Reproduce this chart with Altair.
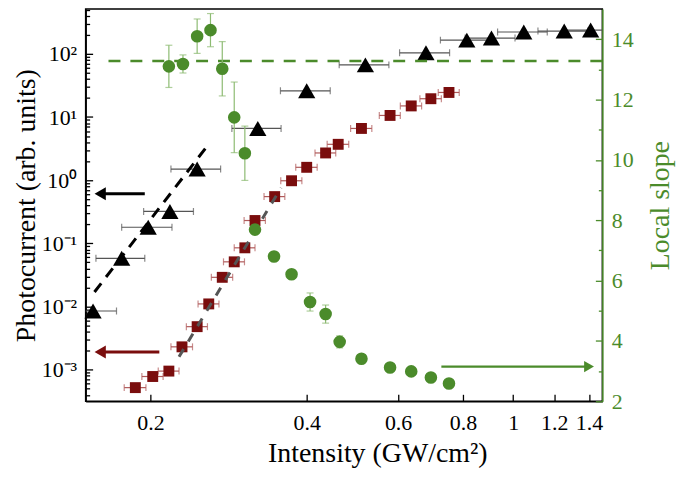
import altair as alt
import pandas as pd

# ---------------- data ----------------
# black triangles (left axis, photocurrent)
tri_x = [0.155, 0.176, 0.198, 0.218, 0.246, 0.322, 0.400, 0.519, 0.679, 0.814, 0.908, 1.048, 1.254, 1.41]
tri_y = [0.0085, 0.058, 0.18, 0.32, 1.5, 6.6, 26, 67, 104, 165, 178, 222, 230, 238]
tri_xerr = [0.017, 0.019, 0.022, 0.024, 0.027, 0.035, 0.044, 0.057, 0.075, 0.090, 0.100, 0.115, 0.138, 0.155]

# dark red squares (left axis, photocurrent)
sq_x = [0.187, 0.202, 0.217, 0.230, 0.246, 0.259, 0.275, 0.290, 0.304, 0.318,
        0.347, 0.374, 0.400, 0.435, 0.460, 0.510, 0.579, 0.636, 0.694, 0.752]
sq_y = [5.2e-4, 7.8e-4, 9.5e-4, 2.3e-3, 4.8e-3, 0.011, 0.029, 0.051, 0.085, 0.23,
        0.55, 0.98, 1.6, 2.7, 3.7, 6.6, 10.6, 15, 19.5, 24.5]
sq_xerr = [0.009, 0.0095, 0.010, 0.011, 0.0115, 0.012, 0.013, 0.0135, 0.014, 0.015,
           0.016, 0.0175, 0.019, 0.020, 0.022, 0.024, 0.027, 0.030, 0.033, 0.035]

# green circles (right axis, local slope)
circ_x = [0.217, 0.231, 0.246, 0.261, 0.275, 0.290, 0.304, 0.318, 0.346, 0.374,
          0.406, 0.435, 0.463, 0.510, 0.579, 0.636, 0.694, 0.752]
circ_s = [13.1, 13.18, 14.1, 14.3, 13.02, 11.41, 10.22, 7.69, 6.80, 6.21,
          5.29, 4.89, 3.97, 3.41, 3.12, 2.99, 2.79, 2.59]
circ_err = [0.7, 0.3, 0.57, 0.55, 0.9, 1.17, 0.9, 0.15, 0.15, 0.15,
            0.3, 0.3, 0.2, 0.1, 0.0, 0.0, 0.0, 0.0]

# dashed guide lines
black_fit_x = [0.156, 0.256]
black_fit_y = [0.017, 3.3]
gray_fit_x = [0.227, 0.357]
gray_fit_y = [1.6e-3, 0.76]
slope_ref_x = [0.166, 1.485]
slope_ref_s = [13.28, 13.28]

# arrows: y value, shaft start, head centre
arrow_left_y = [0.61, 1.9e-3]
arrow_left_from = [0.195, 0.208]
arrow_left_head = [0.160, 0.160]
arrow_left_col = ["black", "#7a0d0d"]
arrow_right_s = [3.15]
arrow_right_from = [0.727]
arrow_right_head = [1.40]

# axis ticks
x_ticks = [0.2, 0.4, 0.6, 0.8, 1, 1.2, 1.4]
left_exps = [-3, -2, -1, 0, 1, 2]
sup = {-3: "⁻³", -2: "⁻²", -1: "⁻¹", 0: "⁰", 1: "¹", 2: "²"}
right_ticks = list(range(2, 15))

# ---------------- styling ----------------
FONT = "Liberation Serif"
GREEN = "#4b8b2b"
GREEN_BAR = "#8dbb72"
RED = "#7a0d0d"
RED_BAR = "#b05a5a"
GRAY_BAR = "#555555"

YLO, YHI = 10 ** -3.5, 10 ** 2.71
left_vals = [m * 10.0 ** e for e in range(-4, 3) for m in range(1, 10)
             if YLO <= m * 10.0 ** e <= YHI]
major_test = "abs(log(datum.value)/LN10 - round(log(datum.value)/LN10)) < 0.001"
label_expr = " : ".join(
    [f"abs(datum.value - {10.0 ** e!r}) < {10.0 ** e * 1e-6!r} ? '10{sup[e]}'" for e in left_exps]
) + " : ''"

xscale = alt.Scale(type="log", domain=[0.15, 1.485], nice=False)
xaxis = alt.Axis(title="Intensity (GW/cm²)", values=x_ticks, format="~g",
                 tickSize={"expr": "-7"}, labelPadding=18, titlePadding=7,
                 titleX=293, titleAlign="center",
                 grid=False, domainColor="black", tickColor="black")

yl_scale = alt.Scale(type="log", domain=[YLO, YHI], nice=False)
yl_axis = alt.Axis(title="Photocurrent (arb. units)", orient="left", values=left_vals,
                   labelExpr=label_expr,
                   tickSize={"condition": {"test": major_test, "value": -7}, "value": -4},
                   labelPadding=16, titlePadding=1, grid=False,
                   domainColor="black", tickColor="black")

yr_scale = alt.Scale(type="linear", domain=[2, 15], nice=False, zero=False)
yr_axis = alt.Axis(title="Local slope", orient="right", values=right_ticks,
                   labelExpr="datum.value % 2 == 0 ? datum.label : ''",
                   tickSize={"condition": {"test": "datum.value % 2 == 0", "value": -7}, "value": -4},
                   labelPadding=16, titleAngle=270, titleBaseline="middle", titleAlign="center",
                   titleX=58, titleY=197,
                   grid=False,
                   domainColor=GREEN, tickColor=GREEN, labelColor=GREEN, titleColor=GREEN)


def X(f):
    return alt.X(f, type="quantitative", scale=xscale, axis=xaxis)


def YL(f):
    return alt.Y(f, type="quantitative", scale=yl_scale, axis=yl_axis)


def YR(f):
    return alt.Y(f, type="quantitative", scale=yr_scale, axis=yr_axis)


tri = pd.DataFrame({"x": tri_x, "y": tri_y, "e": tri_xerr})
tri["lo"] = tri["x"] - tri["e"]
tri["hi"] = tri["x"] + tri["e"]
sq = pd.DataFrame({"x": sq_x, "y": sq_y, "e": sq_xerr})
sq["lo"] = sq["x"] - sq["e"]
sq["hi"] = sq["x"] + sq["e"]
circ = pd.DataFrame({"x": circ_x, "s": circ_s, "e": circ_err})
circ["lo"] = circ["s"] - circ["e"]
circ["hi"] = circ["s"] + circ["e"]
circ_bars = circ[circ["e"] > 0]

bfit = pd.DataFrame({"x": black_fit_x, "y": black_fit_y})
gfit = pd.DataFrame({"x": gray_fit_x, "y": gray_fit_y})
sref = pd.DataFrame({"x": slope_ref_x, "s": slope_ref_s})
arrL = pd.DataFrame({"y": arrow_left_y, "x1": arrow_left_from, "x2": arrow_left_head, "c": arrow_left_col})
arrR = pd.DataFrame({"s": arrow_right_s, "x1": arrow_right_from, "x2": arrow_right_head})

# ---------------- left-axis layers ----------------
tri_bar = alt.Chart(tri).mark_rule(color=GRAY_BAR, strokeWidth=1.2, clip=True).encode(
    x=X("lo"), x2="hi", y=YL("y"))
tri_cap_lo = alt.Chart(tri).mark_tick(orient="vertical", size=7, thickness=1.2, color=GRAY_BAR, clip=True).encode(
    x=X("lo"), y=YL("y"))
tri_cap_hi = alt.Chart(tri).mark_tick(orient="vertical", size=7, thickness=1.2, color=GRAY_BAR, clip=True).encode(
    x=X("hi"), y=YL("y"))
sq_bar = alt.Chart(sq).mark_rule(color=RED_BAR, strokeWidth=1.2).encode(
    x=X("lo"), x2="hi", y=YL("y"))
sq_cap_lo = alt.Chart(sq).mark_tick(orient="vertical", size=7, thickness=1.2, color=RED_BAR).encode(
    x=X("lo"), y=YL("y"))
sq_cap_hi = alt.Chart(sq).mark_tick(orient="vertical", size=7, thickness=1.2, color=RED_BAR).encode(
    x=X("hi"), y=YL("y"))
tri_pts = alt.Chart(tri).mark_point(shape="triangle-up", filled=True, size=300, color="black", opacity=1).encode(
    x=X("x"), y=YL("y"))
sq_pts = alt.Chart(sq).mark_square(size=120, color=RED, opacity=1).encode(
    x=X("x"), y=YL("y"))
bfit_line = alt.Chart(bfit).mark_line(color="black", strokeWidth=3, strokeDash=[11, 8]).encode(
    x=X("x"), y=YL("y"))
gfit_line = alt.Chart(gfit).mark_line(color="#555555", strokeWidth=3, strokeDash=[9, 9]).encode(
    x=X("x"), y=YL("y"))
arrL_shaft = alt.Chart(arrL).mark_rule(strokeWidth=3).encode(
    x=X("x1"), x2="x2", y=YL("y"), color=alt.Color("c:N", scale=None))
arrL_head = alt.Chart(arrL).mark_point(shape="triangle-left", filled=True, size=170, opacity=1).encode(
    x=X("x2"), y=YL("y"), color=alt.Color("c:N", scale=None))

left = alt.layer(tri_bar, tri_cap_lo, tri_cap_hi, sq_bar, sq_cap_lo, sq_cap_hi,
                 tri_pts, sq_pts, bfit_line, gfit_line, arrL_shaft, arrL_head)

# ---------------- right-axis layers ----------------
sref_line = alt.Chart(sref).mark_line(color=GREEN, strokeWidth=2.5, strokeDash=[12, 10]).encode(
    x=X("x"), y=YR("s"))
circ_bar = alt.Chart(circ_bars).mark_rule(color=GREEN_BAR, strokeWidth=1.2).encode(
    x=X("x"), y=YR("lo"), y2="hi")
circ_cap_lo = alt.Chart(circ_bars).mark_tick(orient="horizontal", size=7, thickness=1.2, color=GREEN_BAR).encode(
    x=X("x"), y=YR("lo"))
circ_cap_hi = alt.Chart(circ_bars).mark_tick(orient="horizontal", size=7, thickness=1.2, color=GREEN_BAR).encode(
    x=X("x"), y=YR("hi"))
circ_pts = alt.Chart(circ).mark_circle(size=160, color=GREEN, opacity=1).encode(
    x=X("x"), y=YR("s"))
arrR_shaft = alt.Chart(arrR).mark_rule(strokeWidth=2.2, color=GREEN).encode(
    x=X("x1"), x2="x2", y=YR("s"))
arrR_head = alt.Chart(arrR).mark_point(shape="triangle-right", filled=True, size=130, color=GREEN, opacity=1).encode(
    x=X("x2"), y=YR("s"))

right = alt.layer(sref_line, circ_bar, circ_cap_lo, circ_cap_hi, circ_pts, arrR_shaft, arrR_head)

chart = alt.layer(left, right).resolve_scale(y="independent").properties(
    width=519, height=394,
    autosize=alt.AutoSizeParams(type="none"),
    padding={"left": 78, "top": 0, "right": 75, "bottom": 68},
).configure_view(
    stroke="black", strokeWidth=1.5
).configure_axis(
    labelFont=FONT, titleFont=FONT, labelFontSize=22, titleFontSize=28,
    titleFontWeight="normal", labelColor="black", titleColor="black",
    domainWidth=1.5, tickWidth=1.3,
)

chart.save("out.html", embed_options={"renderer": "svg", "actions": False})
